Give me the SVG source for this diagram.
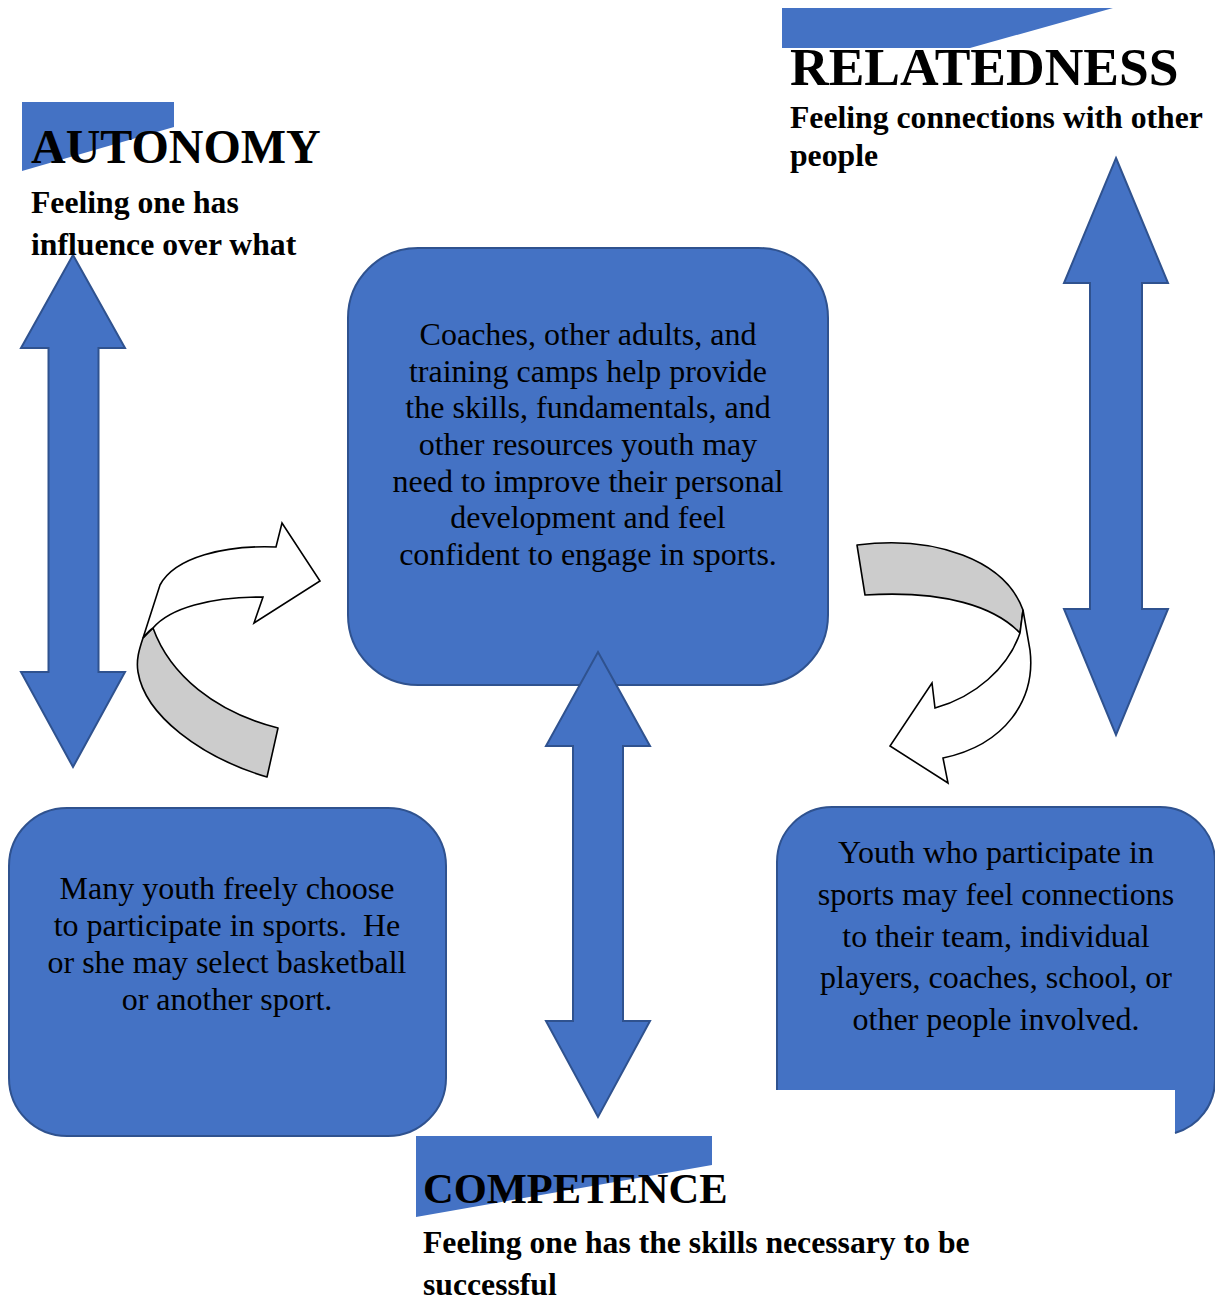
<svg xmlns="http://www.w3.org/2000/svg" width="1215" height="1300" viewBox="0 0 1215 1300">
<style>
  .box { fill: #4472C4; stroke: #2F528F; stroke-width: 2; }
  .banner { fill: #4472C4; stroke: none; }
  .dbl { fill: #4472C4; stroke: #2F528F; stroke-width: 2; stroke-linejoin: miter; }
  .curve-front { fill: #FFFFFF; stroke: #000000; stroke-width: 1.6; stroke-linejoin: miter; }
  .curve-back { fill: #CCCCCC; stroke: #000000; stroke-width: 1.6; stroke-linejoin: round; }
  .body { font-family: "Liberation Serif", "Times New Roman", serif; font-size: 32px; fill: #000; text-anchor: middle; }
  .head { font-family: "Liberation Serif", "Times New Roman", serif; font-weight: bold; fill: #000; }
  .sub { font-family: "Liberation Serif", "Times New Roman", serif; font-weight: bold; font-size: 31.7px; fill: #000; }
</style>
<rect width="1215" height="1300" fill="#FFFFFF"/>

<g id="central-box">
  <rect class="box" x="348" y="248" width="480" height="437" rx="70" ry="70"/>
  <text class="body"><tspan x="588" y="345">Coaches, other adults, and</tspan><tspan x="588" y="381.7">training camps help provide</tspan><tspan x="588" y="418.3">the skills, fundamentals, and</tspan><tspan x="588" y="455">other resources youth may</tspan><tspan x="588" y="491.7">need to improve their personal</tspan><tspan x="588" y="528.3">development and feel</tspan><tspan x="588" y="565">confident to engage in sports.</tspan></text>
</g>

<g id="autonomy-box">
  <rect class="box" x="9" y="808" width="437" height="328" rx="58" ry="58"/>
  <text class="body" style="white-space:pre" xml:space="preserve"><tspan x="227" y="899">Many youth freely choose</tspan><tspan x="227" y="936">to participate in sports.  He</tspan><tspan x="227" y="973">or she may select basketball</tspan><tspan x="227" y="1010">or another sport.</tspan></text>
</g>

<g id="relatedness-box">
  <path d="M777,1090 L777,862 A55,55 0 0 1 832,807 L1160,807 A55,55 0 0 1 1215,862 L1215,1080 A55,55 0 0 1 1175,1133 L1175,1090 Z" fill="#4472C4" stroke="none"/>
  <path d="M777,1090 L777,862 A55,55 0 0 1 832,807 L1160,807 A55,55 0 0 1 1215,862 L1215,1080 A55,55 0 0 1 1175,1133" fill="none" stroke="#2F528F" stroke-width="2"/>
  <text class="body"><tspan x="996" y="863">Youth who participate in</tspan><tspan x="996" y="905">sports may feel connections</tspan><tspan x="996" y="946.5">to their team, individual</tspan><tspan x="996" y="988">players, coaches, school, or</tspan><tspan x="996" y="1030">other people involved.</tspan></text>
</g>

<g id="connectors">
  <path id="arrow-autonomy" class="dbl" d="M73,255 L125,348 L98.5,348 L98.5,672 L125,672 L73,767 L21,672 L48.5,672 L48.5,348 L21,348 Z"/>
  <path id="arrow-relatedness" class="dbl" d="M1116,158 L1168,283 L1142,283 L1142,609 L1168,609 L1116,735 L1064,609 L1090,609 L1090,283 L1064,283 Z"/>
  <path id="arrow-competence" class="dbl" d="M598,652 L650,746 L623,746 L623,1021 L650,1021 L598,1117 L546,1021 L573,1021 L573,746 L546,746 Z"/>
  <g id="curved-left">
    <path class="curve-back" d="M153,628 C170,675 215,712 278,728 L267,777 C200,757 145,715 138,672 C136,660 139,650 143,638 Z"/>
    <path class="curve-front" d="M276,547 C225,545 175,557 160,585 L143,638 C147,633 150,630 153,628 C170,608 210,597 263,597 L254,623 L320,581 L282,523 Z"/>
  </g>
  <g id="curved-right">
    <path class="curve-back" d="M857,545 C935,535 1005,560 1023,610 L1020,633 C995,607 945,590 865,595 Z"/>
    <path class="curve-front" d="M1023,610 L1030,650 C1036,700 1005,745 943,758 L948,783 L890,746 L932,683 L935,708 C975,697 1008,668 1020,633 Z"/>
  </g>
</g>

<g id="autonomy-label">
  <polygon class="banner" points="22,102 174,102 174,127 22,171"/>
  <text class="head" x="31" y="163" font-size="48">AUTONOMY</text>
  <text class="sub"><tspan x="31" y="213">Feeling one has</tspan><tspan x="31" y="255">influence over what</tspan></text>
</g>

<g id="relatedness-label">
  <polygon class="banner" points="782,8 1113,8 970,48 782,48"/>
  <text class="head" x="790" y="85" font-size="53.5">RELATEDNESS</text>
  <text class="sub"><tspan x="790" y="128">Feeling connections with other</tspan><tspan x="790" y="166">people</tspan></text>
</g>

<g id="competence-label">
  <polygon class="banner" points="416,1136 712,1136 712,1165 416,1217"/>
  <text class="head" x="423" y="1203" font-size="42.5">COMPETENCE</text>
  <text class="sub"><tspan x="423" y="1253">Feeling one has the skills necessary to be</tspan><tspan x="423" y="1295">successful</tspan></text>
</g>
</svg>
